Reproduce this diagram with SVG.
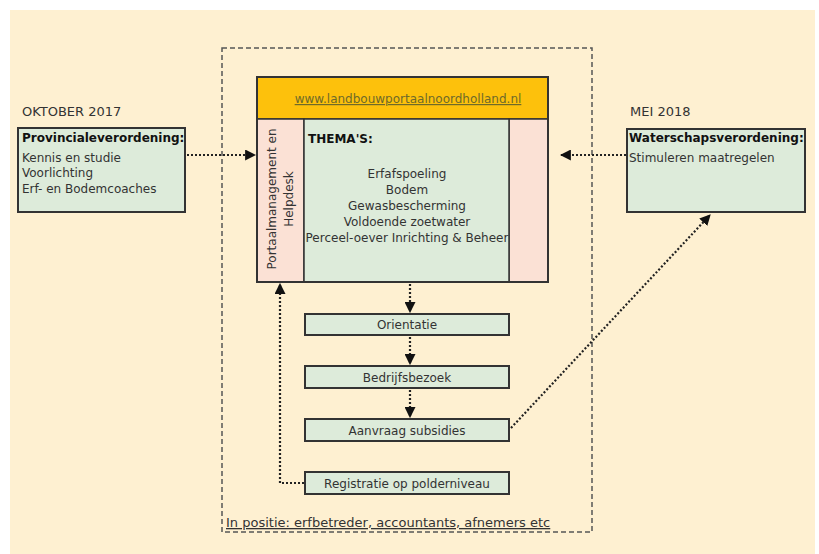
<svg xmlns="http://www.w3.org/2000/svg" width="819" height="554" viewBox="0 0 819 554">
<style>
text{font-family:"DejaVu Sans","Verdana",sans-serif;font-size:12px;fill:#333}
.b{font-weight:bold;fill:#111}
.h{font-size:13px}
.g{fill:#DDEBDA;stroke:#333;stroke-width:2}
.p{fill:#FBE1D5;stroke:#333;stroke-width:1.5}
.c{text-anchor:middle}
.dot{fill:none;stroke:#222;stroke-width:2.2;stroke-dasharray:2 2}
</style>
<defs>
<marker id="ah" viewBox="0 0 10 10" refX="9" refY="5" markerWidth="5" markerHeight="5" orient="auto" markerUnits="strokeWidth">
<path d="M0,0 L10,5 L0,10 z" fill="#111"/>
</marker>
</defs>
<rect width="819" height="554" fill="#fff"/>
<rect x="10" y="10" width="805" height="544" fill="#FEF0D1"/>
<rect x="222" y="48" width="370" height="484" fill="none" stroke="#555" stroke-width="1.5" stroke-dasharray="5 3"/>
<text class="h" x="226" y="527" style="text-decoration:underline">In positie: erfbetreder, accountants, afnemers etc</text>

<g id="left">
<text class="h" x="22" y="116">OKTOBER 2017</text>
<rect class="g" x="18" y="128" width="167" height="84"/>
<text class="b" x="22" y="142">Provincialeverordening:</text>
<text x="22" y="162">Kennis en studie</text>
<text x="22" y="177">Voorlichting</text>
<text x="22" y="193">Erf- en Bodemcoaches</text>
</g>

<g id="right">
<text class="h" x="630" y="116">MEI 2018</text>
<rect class="g" x="627" y="129" width="178" height="83"/>
<text class="b" x="629" y="142">Waterschapsverordening:</text>
<text x="629" y="162">Stimuleren maatregelen</text>
</g>

<g id="portal">
<rect x="257" y="77" width="291" height="42" fill="#FDC10C" stroke="#333" stroke-width="1.5"/>
<text class="c" x="408" y="103" style="fill:#6E6A2A;text-decoration:underline">www.landbouwportaalnoordholland.nl</text>
<rect class="p" x="257" y="119" width="47" height="163"/>
<rect class="p" x="509" y="119" width="39" height="163"/>
<rect x="304" y="119" width="205" height="163" fill="#DDEBDA" stroke="#333" stroke-width="1.5"/>
<rect x="257" y="77" width="291" height="205" fill="none" stroke="#333" stroke-width="2"/>
<text class="c" transform="translate(276,199) rotate(-90)">Portaalmanagement en</text>
<text class="c" transform="translate(293,199) rotate(-90)">Helpdesk</text>
<text class="b" x="308" y="143">THEMA'S:</text>
<text class="c" x="407" y="178">Erfafspoeling</text>
<text class="c" x="407" y="194">Bodem</text>
<text class="c" x="407" y="210">Gewasbescherming</text>
<text class="c" x="407" y="226">Voldoende zoetwater</text>
<text class="c" x="407" y="242">Perceel-oever Inrichting &amp; Beheer</text>
</g>

<g id="orientatie">
<rect class="g" x="305" y="314" width="204" height="21"/>
<text class="c" x="407" y="329">Orientatie</text>
</g>
<g id="bedrijfsbezoek">
<rect class="g" x="305" y="366" width="204" height="22"/>
<text class="c" x="407" y="382">Bedrijfsbezoek</text>
</g>
<g id="aanvraag">
<rect class="g" x="305" y="419" width="204" height="22"/>
<text class="c" x="407" y="435">Aanvraag subsidies</text>
</g>
<g id="registratie">
<rect class="g" x="305" y="472" width="204" height="22"/>
<text class="c" x="407" y="488">Registratie op polderniveau</text>
</g>

<g id="connectors">
<path class="dot" d="M187,155 L255,155" marker-end="url(#ah)"/>
<path class="dot" d="M626,155 L561,155" marker-end="url(#ah)"/>
<path class="dot" d="M410,284 L410,312" marker-end="url(#ah)"/>
<path class="dot" d="M410,337 L410,364" marker-end="url(#ah)"/>
<path class="dot" d="M410,390 L410,417" marker-end="url(#ah)"/>
<path class="dot" d="M304,483 L280,483 L280,284" marker-end="url(#ah)"/>
<path class="dot" d="M511,428 L710,215" marker-end="url(#ah)"/>
</g>
</svg>
